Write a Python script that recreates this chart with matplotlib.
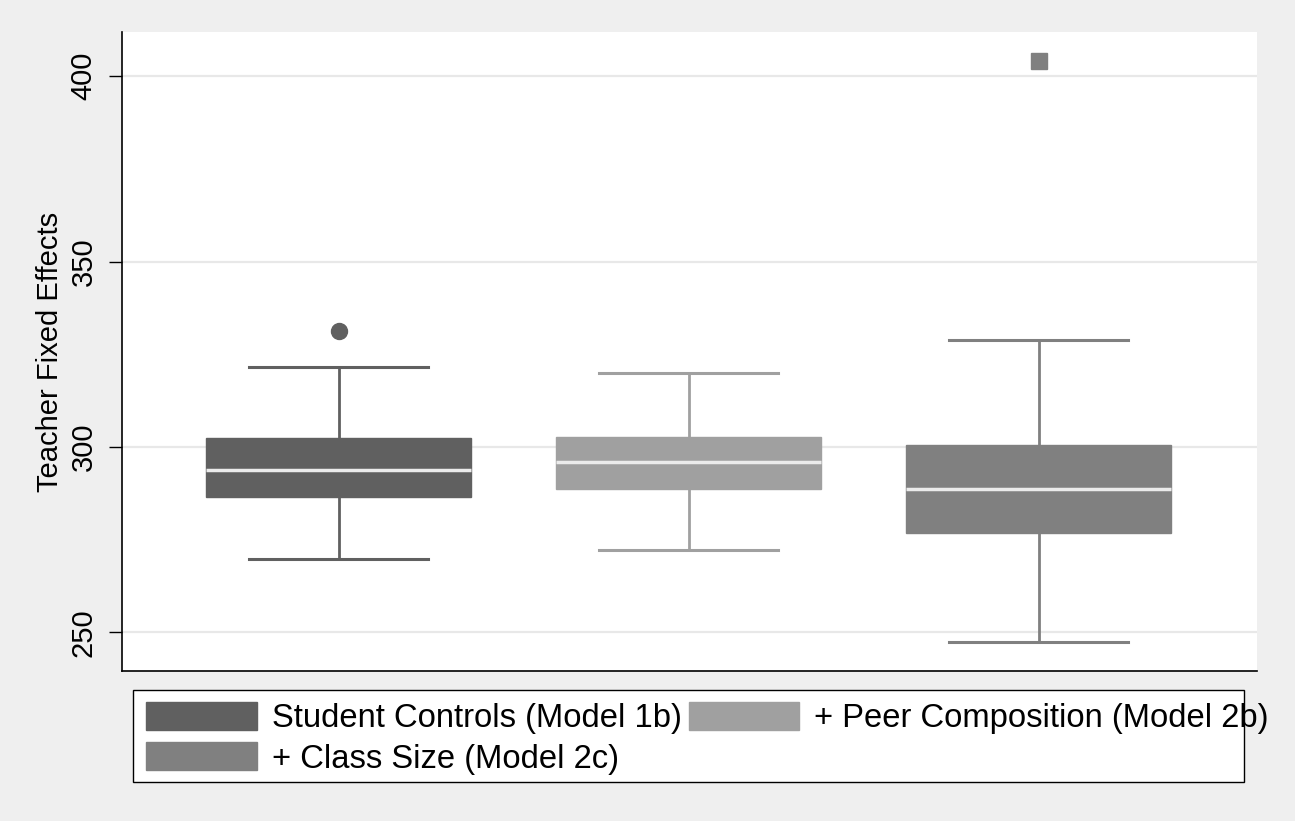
import matplotlib
matplotlib.use("Agg")
import matplotlib.pyplot as plt
from matplotlib.patches import Patch, Rectangle

plt.rcParams["font.family"] = ["Liberation Sans", "DejaVu Sans"]

# box summary values
labels = ["Student Controls (Model 1b)", "+ Peer Composition (Model 2b)", "+ Class Size (Model 2c)"]
q1 = [286.6, 288.7, 276.8]
med = [293.9, 296.0, 288.6]
q3 = [302.4, 302.7, 300.4]
whislo = [269.9, 272.3, 247.3]
whishi = [321.6, 319.9, 328.8]
fliers = [[331.3], [], [404.1]]
flier_markers = ["o", None, "s"]
colors = ["#606060", "#a0a0a0", "#808080"]
yticks = [250, 300, 350, 400]

fig = plt.figure(figsize=(12.95, 8.21), dpi=100, facecolor="#efefef")
ax = fig.add_axes([122 / 1295, 1 - 671 / 821, (1257 - 122) / 1295, (671 - 32) / 821])
ax.set_facecolor("white")

stats = []
for i in range(len(labels)):
    stats.append({"med": med[i], "q1": q1[i], "q3": q3[i],
                  "whislo": whislo[i], "whishi": whishi[i], "fliers": []})

positions = [1, 2, 3]
for i, s in enumerate(stats):
    c = colors[i]
    ax.bxp([s], positions=[positions[i]], widths=0.757, capwidths=0.511,
           patch_artist=True, showfliers=False,
           boxprops=dict(facecolor=c, edgecolor=c, linewidth=1),
           whiskerprops=dict(color=c, linewidth=2),
           capprops=dict(color=c, linewidth=2.2),
           medianprops=dict(color="#ebebeb", linewidth=2.5),
           zorder=3)
    if fliers[i]:
        ax.plot([positions[i]] * len(fliers[i]), fliers[i], linestyle="none",
                marker=flier_markers[i], markersize=11.5, color=c,
                markeredgecolor=c, zorder=4)

ax.set_xlim(0.381, 3.624)
ax.set_ylim(239.56, 411.95)
ax.set_xticks([])
ax.set_yticks(yticks)
ax.set_yticklabels([str(t) for t in yticks], rotation=90, va="center", fontsize=21)
ax.tick_params(axis="y", length=9.5, width=1, pad=8, color="black")
ax.yaxis.grid(True, color="#e8e8e8", linewidth=1.6)
ax.set_axisbelow(True)
for side in ["top", "right"]:
    ax.spines[side].set_visible(False)
for side in ["left", "bottom"]:
    ax.spines[side].set_linewidth(1.2)
ax.set_ylabel("Teacher Fixed Effects", fontsize=21, labelpad=4)

# legend, row order: 1b, 2b / 2c
handles = [Patch(facecolor=c, edgecolor=c) for c in colors]
order = [0, 2, 1]
leg = fig.legend([handles[k] for k in order], [labels[k] for k in order],
                 ncol=2, loc="upper left",
                 bbox_to_anchor=(146 / 1295, 1 - 701.5 / 821),
                 bbox_transform=fig.transFigure, frameon=False,
                 fontsize=23.6, handlelength=3.38, handleheight=0.95,
                 handletextpad=0.45, columnspacing=0.22, labelspacing=0.25,
                 borderpad=0, borderaxespad=0)
fig.patches.append(Rectangle((133 / 1295, 1 - 782 / 821), (1244 - 133) / 1295,
                             (782 - 690) / 821, transform=fig.transFigure,
                             facecolor="white", edgecolor="black",
                             linewidth=1, zorder=0))

fig.savefig("out.png", dpi=100, facecolor=fig.get_facecolor())
